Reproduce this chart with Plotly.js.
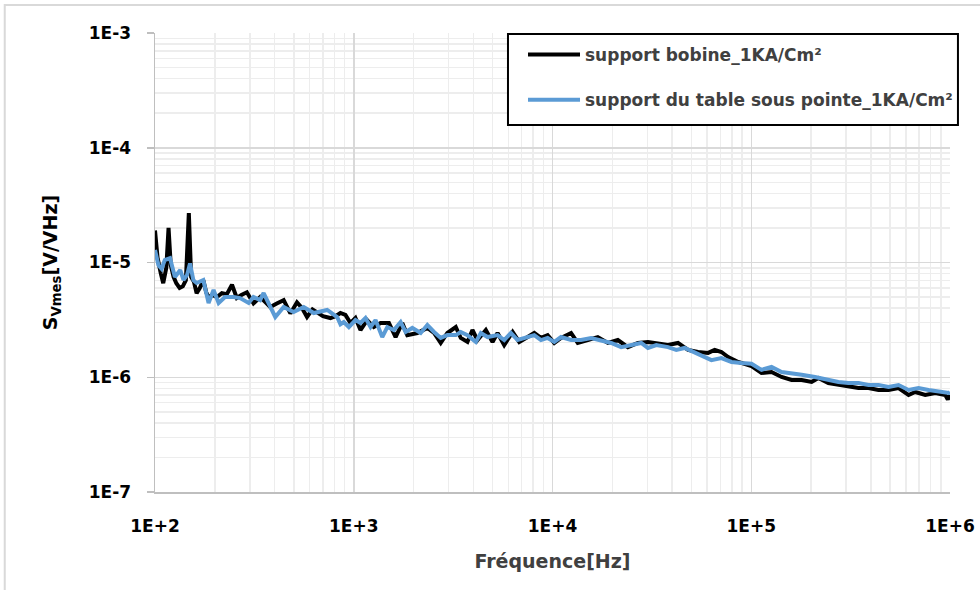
<!DOCTYPE html>
<html>
<head>
<meta charset="utf-8">
<script src="https://cdn.plot.ly/plotly-3.0.1.min.js"></script>
<style>
html,body{margin:0;padding:0;background:#fff;}
#chart{width:980px;height:590px;}
</style>
</head>
<body>
<div id="chart"></div>
<script>
const seriesNames = ["support bobine_1KA/Cm²", "support du table sous pointe_1KA/Cm²"];

const freqBobine = [100,103,107,110,114,117,120,124,128,133,138,143,148,152,157,162,168,175,181,186,195,205,217,230,244,258,272,290,313,338,360,380,410,444,480,518,550,582,620,654,700,763,810,857,908,963,1020,1081,1168,1262,1364,1503,1624,1755,1859,2089,2346,2535,2739,2959,3261,3455,3733,3956,4194,4620,4992,5290,5715,6300,6800,7500,8096,8750,9454,10210,11040,12400,13400,15050,16900,18990,21320,23950,26900,30210,33280,38110,42800,48080,54000,60660,65490,70770,76500,85970,100300,112600,126500,142100,159600,179300,201300,217600,244300,274500,308300,346300,388900,436800,490600,551000,618900,668300,750600,843100,947000,975000,1000000];
const valBobine = [1.9e-5,1.1e-5,8.0e-6,6.6e-6,9.0e-6,2.0e-5,9.5e-6,7.5e-6,6.6e-6,6.0e-6,6.2e-6,7.0e-6,2.7e-5,7.5e-6,6.8e-6,5.4e-6,6.0e-6,7.0e-6,5.5e-6,5.0e-6,5.2e-6,5.0e-6,5.4e-6,5.3e-6,6.4e-6,4.9e-6,5.2e-6,5.5e-6,4.4e-6,5.0e-6,4.5e-6,4.1e-6,4.4e-6,4.7e-6,3.6e-6,4.5e-6,4.0e-6,3.35e-6,3.9e-6,3.7e-6,3.4e-6,3.28e-6,3.4e-6,3.63e-6,3.49e-6,2.97e-6,3.28e-6,2.58e-6,3.15e-6,2.74e-6,2.97e-6,2.97e-6,2.24e-6,2.97e-6,2.33e-6,2.43e-6,2.69e-6,2.43e-6,1.99e-6,2.43e-6,2.74e-6,2.20e-6,2.03e-6,2.58e-6,2.11e-6,2.58e-6,2.03e-6,2.43e-6,1.91e-6,2.48e-6,2.03e-6,2.24e-6,2.43e-6,2.20e-6,2.33e-6,1.99e-6,2.20e-6,2.43e-6,1.99e-6,2.11e-6,2.24e-6,1.99e-6,2.11e-6,1.83e-6,1.99e-6,2.03e-6,1.99e-6,1.91e-6,1.99e-6,1.73e-6,1.66e-6,1.63e-6,1.73e-6,1.66e-6,1.50e-6,1.36e-6,1.25e-6,1.09e-6,1.11e-6,1.005e-6,9.46e-7,9.46e-7,9.09e-7,9.85e-7,8.91e-7,8.56e-7,8.22e-7,8.06e-7,8.06e-7,7.74e-7,7.74e-7,8.06e-7,7.00e-7,7.44e-7,7.00e-7,7.29e-7,7.00e-7,6.4e-7,7.0e-7];

const freqTable = [100,104,108,112,119,126,134,139,145,150,156,162,175,186,197,209,225,248,268,296,313,338,352,373,403,444,498,560,629,735,825,857,891,945,1020,1081,1146,1215,1287,1391,1475,1592,1721,1824,1971,2172,2346,2535,2739,2959,3261,3455,3733,4113,4359,4711,5290,5715,6175,6675,7350,8096,8750,9454,10210,11040,12400,13920,15640,17560,19730,22150,24890,27950,30210,33280,38110,41970,46220,51920,58320,63020,70770,79530,89300,100300,112600,126500,142100,159600,179300,209300,244300,274500,308300,346300,388900,436800,490600,551000,618900,694700,780000,877000,985000,1000000];
const valTable = [1.285e-5,9.5e-6,8.8e-6,1.05e-5,1.09e-5,7.47e-6,8.6e-6,7.04e-6,7.8e-6,9.8e-6,7.0e-6,6.63e-6,7.04e-6,4.44e-6,5.76e-6,4.44e-6,5.0e-6,5.0e-6,4.9e-6,4.44e-6,5.0e-6,4.71e-6,5.42e-6,4.44e-6,3.35e-6,4.09e-6,3.70e-6,4.09e-6,3.63e-6,3.86e-6,3.35e-6,2.9e-6,3.03e-6,2.74e-6,3.15e-6,2.97e-6,3.28e-6,2.74e-6,3.15e-6,2.24e-6,2.74e-6,2.58e-6,3.03e-6,2.48e-6,2.69e-6,2.43e-6,2.85e-6,2.48e-6,2.20e-6,2.33e-6,2.33e-6,2.48e-6,2.33e-6,2.03e-6,2.43e-6,2.24e-6,2.33e-6,2.11e-6,2.43e-6,2.11e-6,2.20e-6,2.33e-6,2.11e-6,2.20e-6,2.03e-6,2.24e-6,2.11e-6,2.11e-6,2.20e-6,2.11e-6,1.99e-6,1.83e-6,1.91e-6,1.99e-6,1.80e-6,1.91e-6,1.83e-6,1.73e-6,1.80e-6,1.63e-6,1.50e-6,1.41e-6,1.47e-6,1.36e-6,1.33e-6,1.31e-6,1.16e-6,1.23e-6,1.11e-6,1.09e-6,1.05e-6,1.005e-6,9.46e-7,9.09e-7,8.91e-7,8.91e-7,8.56e-7,8.56e-7,8.22e-7,8.56e-7,7.74e-7,8.06e-7,7.74e-7,7.44e-7,7.29e-7,7.44e-7];

const xTickVals = [1e2,1e3,1e4,1e5,1e6];
const xTickText = ["1E+2","1E+3","1E+4","1E+5","1E+6"];
const yTickVals = [1e-7,1e-6,1e-5,1e-4,1e-3];
const yTickText = ["1E-7","1E-6","1E-5","1E-4","1E-3"];

const FONT = "DejaVu Sans, sans-serif";

const traces = [
  {x: freqBobine, y: valBobine, type: "scatter", mode: "lines", name: seriesNames[0],
   legendgroup: "a", line: {color: "#000000", width: 4}},
  {x: freqTable, y: valTable, type: "scatter", mode: "lines", name: seriesNames[1],
   legendgroup: "b", line: {color: "#5b9bd5", width: 4}}
];

const layout = {
  width: 980, height: 590,
  margin: {l: 155, r: 30, t: 33, b: 98},
  paper_bgcolor: "#ffffff", plot_bgcolor: "#ffffff",
  font: {family: FONT, color: "#000000"},
  showlegend: true,
  legend: {
    x: 0.4629, y: 0.9913, xanchor: "left", yanchor: "top",
    bgcolor: "rgba(0,0,0,0)", borderwidth: 0,
    font: {family: FONT, size: 17, color: "#404040", weight: "bold"},
    tracegroupgap: 20, itemwidth: 52, traceorder: "grouped"
  },
  xaxis: {
    type: "log", range: [2, 6],
    tickmode: "array", tickvals: xTickVals, ticktext: xTickText,
    tickfont: {family: FONT, size: 17, weight: "bold"},
    ticks: "", ticklabelstandoff: 18,
    showgrid: true, gridcolor: "#d9d9d9", gridwidth: 1.5,
    minor: {dtick: "D1", showgrid: true, gridcolor: "#ededed", gridwidth: 1.5},
    showline: true, linecolor: "#bfbfbf", linewidth: 1.5,
    zeroline: false,
    title: {text: "Fréquence[Hz]", font: {family: FONT, size: 19, weight: "bold", color: "#404040"}, standoff: 20}
  },
  yaxis: {
    type: "log", range: [-7, -3],
    tickmode: "array", tickvals: yTickVals, ticktext: yTickText,
    tickfont: {family: FONT, size: 17, weight: "bold"},
    ticks: "outside", ticklen: 7, tickcolor: "#bfbfbf", tickwidth: 1.5, ticklabelstandoff: 12,
    showgrid: true, gridcolor: "#d9d9d9", gridwidth: 1.5,
    minor: {dtick: "D1", showgrid: true, gridcolor: "#ededed", gridwidth: 1.5},
    showline: true, linecolor: "#bfbfbf", linewidth: 1.5,
    zeroline: false,
    title: {text: "S<sub>Vmes</sub>[V/VHz]", font: {family: FONT, size: 19, weight: "bold", color: "#000000"}, standoff: 26}
  },
  shapes: [
    {type: "rect", xref: "paper", yref: "paper", x0: -0.189, x1: 1.06, y0: -0.25, y1: 1.061,
     line: {color: "#d9d9d9", width: 2}, fillcolor: "rgba(0,0,0,0)", layer: "below"},
    {type: "rect", xref: "paper", yref: "paper", x0: 0.444, x1: 1.010, y0: 0.7996, y1: 0.9978,
     line: {color: "#000000", width: 2}, fillcolor: "#ffffff", layer: "above"}
  ]
};

Plotly.newPlot("chart", traces, layout, {displayModeBar: false, staticPlot: true});
</script>
</body>
</html>
